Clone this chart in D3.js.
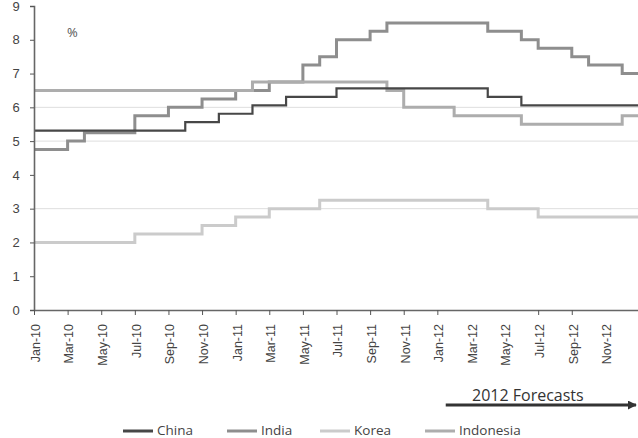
<!DOCTYPE html>
<html>
<head>
<meta charset="utf-8">
<script src="https://cdn.jsdelivr.net/npm/d3@7"></script>
<style>
  body { margin: 0; background: #fff; }
  svg { display: block; font-family: "Open Sans", Roboto, sans-serif; }
  .tick text { fill: #444; }
</style>
</head>
<body>
<svg id="chart" width="638" height="438"></svg>
<script>
// policy rates, monthly Jan-10 .. Dec-12
const tickLabels = ['Jan-10','Mar-10','May-10','Jul-10','Sep-10','Nov-10','Jan-11','Mar-11','May-11',
  'Jul-11','Sep-11','Nov-11','Jan-12','Mar-12','May-12','Jul-12','Sep-12','Nov-12'];
const noTickMark = ['Mar-12','May-12','Nov-12'];
const yTicks = [0,1,2,3,4,5,6,7,8,9];
const gridValues = [3,5,6];

const china = [5.31,5.31,5.31,5.31,5.31,5.31,5.31,5.31,5.31,5.56,5.56,5.81,
  5.81,6.06,6.06,6.31,6.31,6.31,6.56,6.56,6.56,6.56,6.56,6.56,
  6.56,6.56,6.56,6.31,6.31,6.06,6.06,6.06,6.06,6.06,6.06,6.06];
const india = [4.75,4.75,5.0,5.25,5.25,5.25,5.75,5.75,6.0,6.0,6.25,6.25,
  6.5,6.5,6.75,6.75,7.25,7.5,8.0,8.0,8.25,8.5,8.5,8.5,
  8.5,8.5,8.5,8.25,8.25,8.0,7.75,7.75,7.5,7.25,7.25,7.0];
const korea = [2.0,2.0,2.0,2.0,2.0,2.0,2.25,2.25,2.25,2.25,2.5,2.5,
  2.75,2.75,3.0,3.0,3.0,3.25,3.25,3.25,3.25,3.25,3.25,3.25,
  3.25,3.25,3.25,3.0,3.0,3.0,2.75,2.75,2.75,2.75,2.75,2.75];
const indonesia = [6.5,6.5,6.5,6.5,6.5,6.5,6.5,6.5,6.5,6.5,6.5,6.5,
  6.5,6.75,6.75,6.75,6.75,6.75,6.75,6.75,6.75,6.5,6.0,6.0,
  6.0,5.75,5.75,5.75,5.75,5.5,5.5,5.5,5.5,5.5,5.5,5.75];

const series = [
  {name:'Korea', values: korea, color:'#cbcbcb', w:3},
  {name:'India', values: india, color:'#8e8e8e', w:3},
  {name:'Indonesia', values: indonesia, color:'#adadad', w:3},
  {name:'China', values: china, color:'#474747', w:2.2}
];
const legendOrder = ['China','India','Korea','Indonesia'];

const svg = d3.select('#chart');
const x = d3.scaleLinear().domain([0, 36]).range([34, 639]);
const y = d3.scaleLinear().domain([0, 9]).range([310, 6]);

// gridlines
svg.append('g').selectAll('line').data(gridValues).join('line')
  .attr('x1', 34).attr('x2', 638)
  .attr('y1', d => y(d)).attr('y2', d => y(d))
  .attr('stroke', '#dedede').attr('stroke-width', 1);

// lines
const lineGen = d3.line()
  .x(d => x(d[0]))
  .y(d => y(d[1]))
  .curve(d3.curveStepAfter);

series.forEach(s => {
  const pts = s.values.map((v, i) => [i, v]);
  pts.push([s.values.length, s.values[s.values.length - 1]]);
  svg.append('path')
    .attr('d', lineGen(pts))
    .attr('fill', 'none')
    .attr('stroke', s.color)
    .attr('stroke-width', s.w);
});

// y axis
const yAxisG = svg.append('g')
  .attr('transform', 'translate(34,0)')
  .call(d3.axisLeft(y).tickValues(yTicks).tickSize(4).tickPadding(11).tickFormat(d3.format('d')));
yAxisG.selectAll('.tick text').attr('font-size', 13).attr('text-anchor', 'middle').attr('dx', '-3');
yAxisG.select('.domain').attr('stroke', '#666').attr('stroke-width', 1.6);
yAxisG.selectAll('.tick line').attr('stroke', '#555');

// x axis
const tickPos = tickLabels.map((d, i) => i * 2);
const xAxisG = svg.append('g')
  .attr('transform', `translate(0,${y(0)})`)
  .call(d3.axisBottom(x).tickValues(tickPos).tickSize(5).tickSizeOuter(0)
    .tickFormat((d, i) => tickLabels[i]));
xAxisG.select('.domain').attr('stroke', '#666').attr('stroke-width', 1.6);
xAxisG.selectAll('.tick line').attr('stroke', '#555')
  .attr('opacity', (d, i) => noTickMark.includes(tickLabels[i]) ? 0 : 1);
xAxisG.selectAll('.tick text')
  .attr('font-size', 12.5)
  .attr('text-anchor', 'end')
  .attr('transform', 'rotate(-90)')
  .attr('x', -14)
  .attr('y', 1)
  .attr('dy', '0.35em');

// % label
svg.append('text').attr('x', 67).attr('y', 37)
  .attr('font-size', 13).attr('fill', '#555').text('%');

// forecast arrow
svg.append('defs').append('marker')
  .attr('id', 'arrow').attr('viewBox', '0 0 10 10')
  .attr('refX', 9).attr('refY', 5)
  .attr('markerWidth', 3).attr('markerHeight', 3)
  .attr('orient', 'auto')
  .append('path').attr('d', 'M0,0L10,5L0,10z').attr('fill', '#333');
svg.append('line')
  .attr('x1', x(24.5)).attr('x2', 636)
  .attr('y1', 405).attr('y2', 405)
  .attr('stroke', '#333').attr('stroke-width', 3)
  .attr('marker-end', 'url(#arrow)');
svg.append('text').attr('x', 472).attr('y', 401)
  .attr('font-size', 16).attr('fill', '#333').text('2012 Forecasts');

// legend
const legendX = [123, 227, 320, 425];
const legend = svg.append('g');
legendOrder.forEach((name, i) => {
  const s = series.find(t => t.name === name);
  legend.append('line')
    .attr('x1', legendX[i]).attr('x2', legendX[i] + 30)
    .attr('y1', 431).attr('y2', 431)
    .attr('stroke', s.color).attr('stroke-width', 3);
  legend.append('text')
    .attr('x', legendX[i] + 34).attr('y', 435)
    .attr('font-size', 13.5).attr('fill', '#444').text(name);
});
</script>
</body>
</html>
